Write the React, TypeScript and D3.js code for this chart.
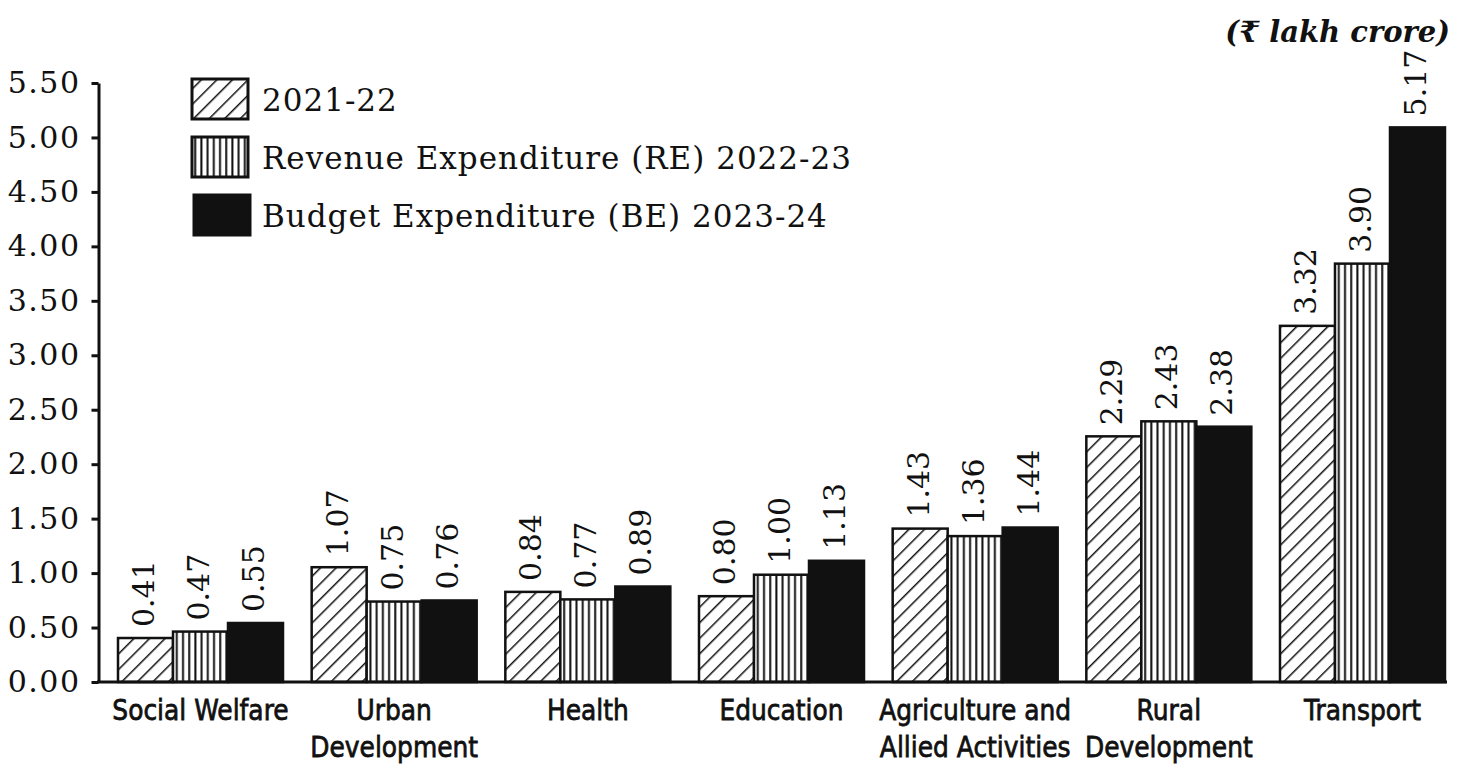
import React, { useEffect, useRef } from 'react';
import * as d3 from 'd3';

const categories = [
  ['Social Welfare'],
  ['Urban', 'Development'],
  ['Health'],
  ['Education'],
  ['Agriculture and', 'Allied Activities'],
  ['Rural', 'Development'],
  ['Transport'],
];
const seriesNames = ['2021-22', 'Revenue Expenditure (RE) 2022-23', 'Budget Expenditure (BE) 2023-24'];
const actual2122 = [0.41, 1.07, 0.84, 0.8, 1.43, 2.29, 3.32];
const re2223 = [0.47, 0.75, 0.77, 1.0, 1.36, 2.43, 3.9];
const be2324 = [0.55, 0.76, 0.89, 1.13, 1.44, 2.38, 5.17];
const yTicks = [0, 0.5, 1, 1.5, 2, 2.5, 3, 3.5, 4, 4.5, 5, 5.5];

const SERIF = '"DejaVu Serif", serif';
const SANS = '"DejaVu Sans", sans-serif';

const App = () => {
  const svgRef = useRef(null);

  useEffect(() => {
    const width = 1461;
    const height = 765;
    const svg = d3.select(svgRef.current);
    svg.selectAll('*').remove();

    const fills = ['url(#hatch)', 'url(#stripes)', '#111'];
    const defs = svg.append('defs');

    const hatch = defs.append('pattern')
      .attr('id', 'hatch')
      .attr('patternUnits', 'userSpaceOnUse')
      .attr('width', 11)
      .attr('height', 11)
      .attr('patternTransform', 'rotate(45)');
    hatch.append('rect').attr('width', 11).attr('height', 11).attr('fill', '#fff');
    hatch.append('line')
      .attr('x1', 0).attr('y1', 0).attr('x2', 0).attr('y2', 11)
      .attr('stroke', '#111').attr('stroke-width', 3);

    const stripes = defs.append('pattern')
      .attr('id', 'stripes')
      .attr('patternUnits', 'userSpaceOnUse')
      .attr('width', 6.2)
      .attr('height', 10);
    stripes.append('rect').attr('width', 6.2).attr('height', 10).attr('fill', '#fff');
    stripes.append('line')
      .attr('x1', 3).attr('y1', 0).attr('x2', 3).attr('y2', 10)
      .attr('stroke', '#111').attr('stroke-width', 2);

    const x0 = d3.scaleBand()
      .domain(categories.map((c) => c.join(' ')))
      .range([118, 1445])
      .paddingInner(0.148)
      .paddingOuter(0);

    const x1 = d3.scaleBand()
      .domain(seriesNames)
      .range([0, x0.bandwidth()]);

    // axis scale, and the bar scale as the source drew it (bars sit a little short of the ticks)
    const y = d3.scaleLinear().domain([0, 5.5]).range([682, 83]);
    const yBar = d3.scaleLinear().domain([0, 5.5]).range([682, 92]);

    const data = categories.map((c, i) => ({
      key: c.join(' '),
      lines: c,
      values: [actual2122[i], re2223[i], be2324[i]],
    }));

    // bars
    const groups = svg.append('g')
      .selectAll('g')
      .data(data)
      .enter().append('g')
      .attr('transform', (d) => `translate(${x0(d.key)},0)`);

    groups.selectAll('rect')
      .data((d) => d.values.map((v, j) => ({ v, j })))
      .enter().append('rect')
      .attr('x', (d) => x1(seriesNames[d.j]))
      .attr('y', (d) => yBar(d.v))
      .attr('width', x1.bandwidth())
      .attr('height', (d) => yBar(0) - yBar(d.v))
      .attr('fill', (d) => fills[d.j])
      .attr('stroke', '#111')
      .attr('stroke-width', 2.5);

    groups.selectAll('text.val')
      .data((d) => d.values.map((v, j) => ({ v, j })))
      .enter().append('text')
      .attr('class', 'val')
      .attr('transform', (d) => `translate(${x1(seriesNames[d.j]) + x1.bandwidth() / 2 - 2},${yBar(d.v) - 11}) rotate(-90)`)
      .attr('dominant-baseline', 'central')
      .style('font-family', SERIF)
      .style('font-size', '30px')
      .attr('fill', '#111')
      .text((d) => d.v.toFixed(2));

    // axes
    const yAxis = svg.append('g')
      .attr('transform', 'translate(98.5,0)')
      .call(d3.axisLeft(y).tickValues(yTicks).tickFormat(d3.format('.2f')).tickSize(7).tickSizeOuter(0));
    yAxis.select('.domain').attr('stroke', '#111').attr('stroke-width', 3);
    yAxis.selectAll('.tick line').attr('stroke', '#111').attr('stroke-width', 3);
    yAxis.selectAll('.tick text')
      .attr('x', -18)
      .attr('fill', '#111')
      .style('font-family', SERIF)
      .style('font-size', '30px')
      .style('letter-spacing', '1.5px');

    svg.append('line')
      .attr('x1', 97).attr('x2', 1447)
      .attr('y1', y(0)).attr('y2', y(0))
      .attr('stroke', '#111').attr('stroke-width', 3);

    // category labels, squeezed to look like the condensed face of the source
    const cat = svg.append('g')
      .selectAll('g')
      .data(data)
      .enter().append('g')
      .attr('transform', (d) => `translate(${x0(d.key) + x0.bandwidth() / 2},720) scale(0.86,1)`)
      .append('text')
      .attr('text-anchor', 'middle')
      .style('font-family', SANS)
      .style('font-size', '29px')
      .attr('fill', '#111')
      .attr('stroke', '#111')
      .attr('stroke-width', 0.8);
    cat.selectAll('tspan')
      .data((d) => d.lines)
      .enter().append('tspan')
      .attr('x', 0)
      .attr('dy', (d, i) => (i === 0 ? 0 : 37))
      .text((d) => d);

    // legend
    const legend = svg.append('g');
    seriesNames.forEach((name, i) => {
      const ly = 79 + i * 58;
      legend.append('rect')
        .attr('x', 192 + (i === 2 ? 2 : 0))
        .attr('y', ly)
        .attr('width', 56)
        .attr('height', 40)
        .attr('fill', fills[i])
        .attr('stroke', '#111')
        .attr('stroke-width', 3);
      legend.append('text')
        .attr('x', 262)
        .attr('y', ly + 21)
        .attr('dominant-baseline', 'central')
        .style('font-family', SERIF)
        .style('font-size', '31px')
        .style('letter-spacing', '1px')
        .attr('fill', '#111')
        .text(name);
    });

    // unit
    svg.append('text')
      .attr('x', 1450)
      .attr('y', 42)
      .attr('text-anchor', 'end')
      .style('font-family', SERIF)
      .style('font-size', '29px')
      .style('font-style', 'italic')
      .style('font-weight', 'bold')
      .attr('fill', '#111')
      .text('(\u20B9 lakh crore)');

    svg.attr('width', width).attr('height', height);
  }, []);

  return (
    <div style={{ position: 'absolute', left: 0, top: 0, width: 1461, height: 765, background: '#fff' }}>
      <svg ref={svgRef}></svg>
    </div>
  );
};

export default App;
